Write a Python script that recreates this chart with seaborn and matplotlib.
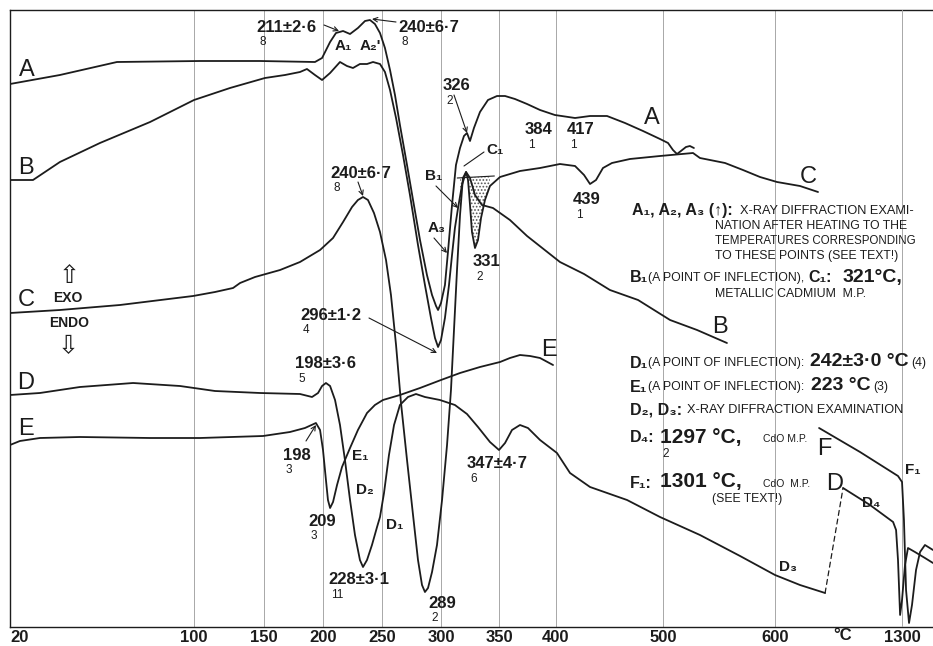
import numpy as np
import matplotlib
matplotlib.use('Agg')
import matplotlib.pyplot as plt
from matplotlib.patches import ConnectionPatch
import seaborn as sns

sns.set_style("white")
plt.rcParams['font.family'] = ['Liberation Sans', 'DejaVu Sans']

INK = '#1c1c1c'
GRID = '#a8a8a8'

# --- curves: temperature (°C) vs. DTA deflection (arbitrary units) ---
a_temp = [20, 41.7, 66.5, 104.3, 147.1, 193.2, 199.2, 206, 211, 217, 222.9, 229.6, 235.6, 239.8,
          244, 248.3, 252.5, 256.8, 261, 265.2, 271.2, 276.3, 282.2, 288.1, 292.4, 295.8, 297.5,
          300, 303.4, 306, 309.5, 312.9, 316.4, 319.8, 322.4, 325, 328.4, 333.6, 340.5, 348.3,
          355.3, 364, 374.6, 386, 399, 417.8, 431.8, 447.7, 464.5, 481.3, 497.2, 504.5, 508.9,
          512.5, 516, 520.5, 524, 527.6]
a_sig = [543, 552, 565, 566, 566, 565, 569, 585, 594, 596, 593, 599, 606, 607,
         603, 594, 579, 557, 532, 502, 462, 427, 387, 352, 332, 321, 317,
         324, 342, 375, 422, 462, 479, 491, 494, 486, 499, 515, 527, 531,
         531, 528, 523, 517, 512, 509, 511, 511, 504, 496, 488, 484, 477,
         473, 476, 480, 481, 479]

b_temp = [20, 30, 35.2, 41.7, 59.1, 80.9, 100, 125.7, 150.8, 167.8, 180.5, 186.4, 193.2, 199.2,
          206, 214.4, 220.3, 225.4, 231.3, 237.3, 242.4, 248.3, 252.5, 256.8, 261.9, 267.8,
          273.7, 280.5, 286.4, 291.5, 294.9, 297.5, 300, 303.4, 306.9, 309.5, 312, 314.7,
          318.1, 321.6, 325, 329.3, 335.3, 344.8, 359.6, 374.6, 403.7, 426.2, 450.4, 476.7,
          506.3, 530.4, 557.1]
b_sig = [447, 447, 455, 465, 484, 505, 527, 539, 549, 552, 555, 558, 552, 547,
         554, 565, 561, 559, 563, 563, 565, 563, 555, 537, 509, 472,
         432, 382, 342, 309, 289, 280, 287, 309, 342, 372, 399, 419,
         442, 455, 449, 432, 422, 419, 407, 391, 365, 353, 337, 327,
         307, 297, 284]

c_temp = [20, 41.7, 67.8, 99.6, 115, 127.9, 132.9, 143.6, 163.6, 180.5, 197.5, 208.5, 217, 224.6,
          229.6, 233.9, 238.1, 243.2, 248.3, 253.4, 257.6, 261.9, 266.1, 271.2, 276.3, 280.5,
          283.9, 286.4, 289, 292.4, 296.6, 300.9, 305.2, 308.6, 311.2, 313.8, 316.4, 318.9,
          321.6, 323.3, 325, 326.7, 329.3, 331.9, 334.5, 337.9, 342.2, 350.9, 368.4, 386,
          403.7, 417.8, 426.2, 431.8, 437.4, 443.9, 452.3, 469.1, 497.2, 526.8, 533, 542,
          555.4, 571.4, 586.6, 601.8, 622.3, 638.4]
c_sig = [314, 317, 322, 331, 335, 339, 344, 350, 357, 365, 377, 389, 405, 420,
         427, 430, 427, 414, 395, 367, 332, 282, 224, 167, 112, 67,
         42, 35, 39, 55, 82, 127, 182, 237, 297, 357, 412, 449,
         455, 447, 422, 395, 379, 387, 409, 427, 441, 450, 456, 459,
         463, 461, 452, 443, 447, 459, 464, 468, 471, 474, 469, 467,
         464, 457, 450, 445, 441, 435]

d_temp = [20, 33, 50.4, 73.5, 93.9, 115, 147.1, 180.5, 190.7, 195.8, 199.2, 202.5, 206, 210.2,
          214.4, 218.6, 222.9, 227.1, 231.3, 233.9, 237.3, 241.5, 245.8, 248.3, 251.7, 255.9,
          260.2, 265.2, 272, 278.8, 286.4, 299.1, 312, 322.4, 331.9, 342.2, 350, 355.3, 361.4,
          368.4, 375.4, 386, 400.9, 413.1, 431.8, 466.4, 497.2, 533, 568.8, 600, 622.3, 644.7]
d_sig = [232, 234, 240, 244, 241, 236, 234, 233, 230, 234, 241, 244, 241, 227,
         202, 167, 127, 92, 67, 60, 67, 82, 100, 110, 134, 172,
         202, 222, 230, 233, 230, 227, 222, 213, 200, 185, 177, 184, 197,
         202, 199, 187, 174, 154, 140, 127, 110, 92, 71, 52, 42, 34]

# high-temperature part of D and curve F (separate, compressed scale)
dh_temp = [1266.3, 1281.7, 1294.9, 1296.6, 1297.7, 1298.9, 1300, 1301.7, 1303.4, 1307.4, 1313.1, 1317.7]
dh_sig = [139, 122, 105, 97, 67, 12, 27, 62, 79, 75, 69, 64]

f_temp = [1252.6, 1276, 1297.7, 1300, 1301.1, 1302.3, 1304, 1305.7, 1308, 1310.3, 1313.1, 1317.7]
f_sig = [199, 175, 151, 145, 107, 37, 4, 22, 57, 75, 82, 77]

e_temp = [20, 24.3, 33, 50.4, 80.9, 104.3, 149.3, 172, 184.7, 194, 197.5, 200, 202.5, 204.2,
          206, 208.5, 211.9, 216.1, 222.9, 229.6, 237.3, 244, 250.8, 265.2, 282.2, 300,
          316.4, 333.6, 350.9, 359.6, 368.4, 377.2, 386, 397.4]
e_sig = [182, 186, 189, 190, 189, 189, 191, 195, 199, 204, 197, 177, 147, 127,
         119, 125, 142, 160, 179, 197, 214, 222, 227, 232, 239, 247,
         254, 260, 265, 269, 272, 271, 269, 262]

# dotted melting area on C (baseline end points)
shade_t = [314, 346]
shade_base = [449, 451]

tick_temps = [20, 100, 150, 200, 250, 300, 350, 400, 500, 600]
tick_labels = ['20', '100', '150', '200', '250', '300', '350', '400', '500', '600']

# non-linear temperature axis of the original recorder chart
knot_t = [20, 100, 150, 200, 250, 300, 350, 400, 500, 600, 741]
knot_p = [0, 184, 254, 313, 372, 431, 489, 546, 653, 765, 923]


def fwd(t):
    return np.interp(t, knot_t, knot_p)


def inv(p):
    return np.interp(p, knot_p, knot_t)


W, H = 933, 646
fig = plt.figure(figsize=(W / 100, H / 100), dpi=100)
ax = fig.add_axes([10 / W, 19 / H, 923 / W, 617 / H])
ax.set_xscale('function', functions=(fwd, inv))
ax.set_xlim(20, 741)
ax.set_ylim(0, 617)

ax2 = ax.twiny()
ax2.set_xlim(790.3, 1317.7)
ax2.set_ylim(0, 617)

for t in tick_temps[1:]:
    ax.axvline(t, color=GRID, lw=0.7, zorder=0)
ax2.axvline(1300, color=GRID, lw=0.7, zorder=0)

for xs, ys, axis in [(a_temp, a_sig, ax), (b_temp, b_sig, ax), (c_temp, c_sig, ax),
                     (d_temp, d_sig, ax), (e_temp, e_sig, ax),
                     (dh_temp, dh_sig, ax2), (f_temp, f_sig, ax2)]:
    sns.lineplot(x=xs, y=ys, ax=axis, color=INK, lw=1.3, estimator=None, sort=False, legend=False)

# shaded area below the baseline on curve C
ct = np.array(c_temp)
cs = np.array(c_sig)
m = (ct >= shade_t[0]) & (ct <= shade_t[1])
base = np.interp(ct[m], shade_t, shade_base)
plt.rcParams['hatch.linewidth'] = 0.8
ax.fill_between(ct[m], cs[m], base, where=cs[m] < base, interpolate=True,
                facecolor='none', edgecolor='#555555', hatch='.....', linewidth=0)
ax.plot(shade_t, shade_base, color=INK, lw=0.8)

# dashed jump of curve D to the high temperature range
con = ConnectionPatch(xyA=(d_temp[-1], d_sig[-1]), coordsA=ax.transData,
                      xyB=(dh_temp[0], dh_sig[0]), coordsB=ax2.transData,
                      linestyle=(0, (4, 3)), color=INK, lw=0.9)
fig.add_artist(con)

# axes styling
ax.spines['right'].set_visible(False)
for s in ['left', 'top', 'bottom']:
    ax.spines[s].set_color(INK)
    ax.spines[s].set_linewidth(1.0)
for s in ax2.spines.values():
    s.set_visible(False)
ax.set_yticks([])
ax.set_xticks(tick_temps)
ax.set_xticklabels(tick_labels, fontsize=12, fontweight='bold', color=INK)
ax.get_xticklabels()[0].set_ha('left')
ax.tick_params(axis='x', length=0, pad=2)
ax.set_xticks([], minor=True)
ax2.xaxis.set_ticks_position('bottom')
ax2.xaxis.set_label_position('bottom')
ax2.set_xticks([1300])
ax2.set_xticklabels(['1300'], fontsize=12, fontweight='bold', color=INK)
ax2.tick_params(axis='x', length=0, pad=2)
ax2.set_yticks([])


def put(px, py, s, size=12, weight='bold', ha='left'):
    fig.text(px / W, 1 - py / H, s, fontsize=size, fontweight=weight, ha=ha, va='center', color=INK)


def arrow(tail, head, style='->'):
    ax.annotate('', xy=(head[0] / W, 1 - head[1] / H), xycoords='figure fraction',
                xytext=(tail[0] / W, 1 - tail[1] / H), textcoords='figure fraction',
                arrowprops=dict(arrowstyle=style, lw=0.8, color=INK, shrinkA=0, shrinkB=0,
                                mutation_scale=8))


put(843, 636, '°C', ha='center')

# curve letters
for px, py, s in [(19, 70, 'A'), (18, 168, 'B'), (18, 300, 'C'), (17, 383, 'D'), (18, 429, 'E'),
                  (644, 118, 'A'), (800, 177, 'C'), (712, 327, 'B'), (541, 350, 'E'),
                  (817, 449, 'F'), (826, 484, 'D')]:
    put(px, py, s, size=17, weight='normal')

# peak labels with number of runs below
peaks = [(256, 27, '211±2·6', '8'), (398, 27, '240±6·7', '8'), (443, 86, '326', '2'),
         (525, 130, '384', '1'), (567, 130, '417', '1'), (330, 173, '240±6·7', '8'),
         (573, 200, '439', '1'), (473, 262, '331', '2'), (300, 315, '296±1·2', '4'),
         (295, 364, '198±3·6', '5'), (283, 455, '198', '3'), (308, 521, '209', '3'),
         (328, 580, '228±3·1', '11'), (428, 603, '289', '2'), (467, 464, '347±4·7', '6')]
for px, py, s, n in peaks:
    put(px, py, s, size=12)
    put(px + 3, py + 15, n, size=8.5, weight='normal')

for px, py, s in [(335, 46, 'A₁'), (360, 46, "A₂'"), (486, 150, 'C₁'), (425, 176, 'B₁'),
                  (428, 228, 'A₃'), (352, 456, 'E₁'), (356, 490, 'D₂'), (386, 525, 'D₁'),
                  (779, 567, 'D₃'), (905, 470, 'F₁'), (862, 503, 'D₄')]:
    put(px, py, s, size=11)

arrow((324, 25), (339, 31))
arrow((396, 22), (372, 19))
arrow((454, 95), (467, 133))
arrow((358, 182), (363, 196))
arrow((436, 186), (458, 208))
arrow((434, 238), (447, 253))
arrow((369, 318), (437, 353))
arrow((306, 441), (316, 425))
arrow((484, 152), (464, 166), style='-')

# EXO / ENDO
put(69, 276, '⇧', size=18, weight='normal', ha='center')
put(68, 298, 'EXO', size=10, ha='center')
put(69, 323, 'ENDO', size=10, ha='center')
put(68, 346, '⇩', size=18, weight='normal', ha='center')

# explanation blocks
small = 8.8
put(632, 211, 'A₁, A₂, A₃ (↑):', size=11.5)
put(740, 211, 'X-RAY DIFFRACTION EXAMI-', size=9.2, weight='normal')
put(715, 226, 'NATION AFTER HEATING TO THE', size=small, weight='normal')
put(715, 241, 'TEMPERATURES CORRESPONDING', size=8.3, weight='normal')
put(715, 256, 'TO THESE POINTS (SEE TEXT!)', size=small, weight='normal')
put(630, 278, 'B₁', size=11.5)
put(648, 278, '(A POINT OF INFLECTION),', size=small, weight='normal')
put(808, 278, 'C₁:', size=11.5)
put(843, 277, '321°C,', size=14)
put(715, 294, 'METALLIC CADMIUM  M.P.', size=small, weight='normal')

put(630, 363, 'D₁', size=11.5)
put(648, 363, '(A POINT OF INFLECTION):', size=small, weight='normal')
put(810, 362, '242±3·0 °C', size=14)
put(911, 363, '(4)', size=small, weight='normal')
put(630, 387, 'E₁', size=11.5)
put(648, 387, '(A POINT OF INFLECTION):', size=small, weight='normal')
put(811, 386, '223 °C', size=14)
put(873, 387, '(3)', size=small, weight='normal')
put(630, 410, 'D₂, D₃:', size=11.5)
put(687, 410, 'X-RAY DIFFRACTION EXAMINATION', size=9.2, weight='normal')
put(630, 438, 'D₄:', size=11.5)
put(660, 437, '1297 °C,', size=15)
put(763, 439, 'CdO M.P.', size=7.5, weight='normal')
put(662, 454, '2', size=8.5, weight='normal')
put(630, 483, 'F₁:', size=11.5)
put(660, 482, '1301 °C,', size=15)
put(763, 484, 'CdO  M.P.', size=7.5, weight='normal')
put(712, 499, '(SEE TEXT!)', size=small, weight='normal')

fig.savefig('out.png', dpi=100)
plt.close(fig)
